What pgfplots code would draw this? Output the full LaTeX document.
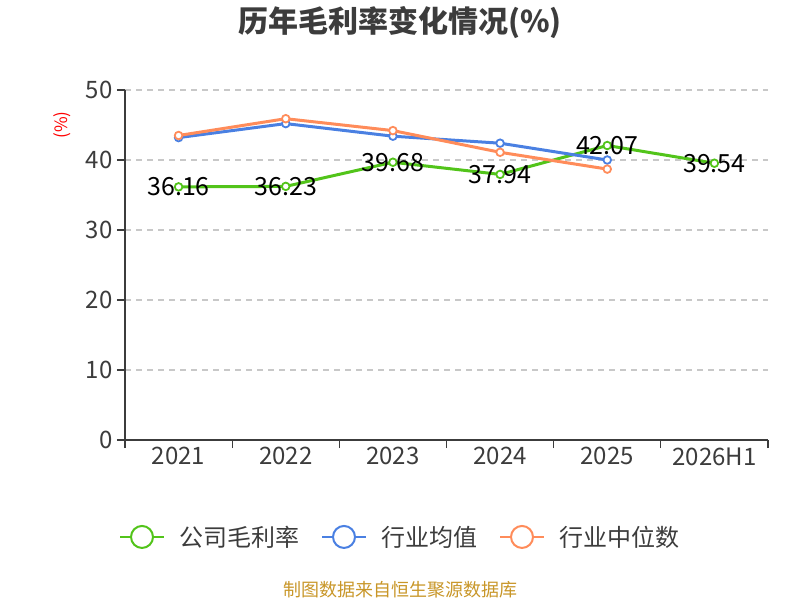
\documentclass[border=0pt]{standalone}
\usepackage{pgfplots}
\pgfplotsset{compat=1.18}
\usepackage{fontspec}
\setmainfont{Noto Sans CJK SC}
\definecolor{cgreen}{RGB}{82,196,26}
\definecolor{cblue}{RGB}{74,128,226}
\definecolor{corange}{RGB}{255,140,90}
\definecolor{ctext}{RGB}{60,60,60}
\definecolor{cfoot}{RGB}{200,150,40}
\definecolor{cgrid}{RGB}{200,200,200}
\begin{document}
\begin{tikzpicture}[x=1pt,y=1pt]
\useasboundingbox (0,0) rectangle (800,600);
\node[font=\fontsize{30pt}{34pt}\selectfont\bfseries, text=ctext] at (400,577) {历年毛利率变化情况(\%)};
\node[font=\fontsize{17pt}{19pt}\selectfont, text=red, rotate=90] at (62,475) {(\%)};
\node[font=\fontsize{18pt}{20pt}\selectfont, text=cfoot] at (400,10) {制图数据来自恒生聚源数据库};
\begin{axis}[
  at={(125pt,160pt)}, anchor=south west,
  scale only axis, width=643pt, height=350pt,
  xmin=-0.5, xmax=5.5, ymin=0, ymax=50,
  axis x line=bottom, axis y line=left,
  axis line style={-, ctext, line width=1.5pt},
  xtick={-0.5,0.5,1.5,2.5,3.5,4.5,5.5},
  xticklabels={},
  extra x ticks={0,1,2,3,4,5},
  extra x tick labels={2021,2022,2023,2024,2025,2026H1},
  extra x tick style={major tick length=0pt, grid=none},
  ytick={0,10,20,30,40,50},
  ymajorgrids,
  grid style={cgrid, line width=1.2pt, dash pattern=on 6pt off 5pt},
  xtick style={draw=ctext, line width=1.3pt},
  ytick style={draw=ctext, line width=1.5pt},
  xtick align=outside, ytick align=outside, major tick length=8pt,
  /pgf/number format/assume math mode=true,
  ticklabel style={font=\fontsize{24pt}{27pt}\selectfont, text=ctext},
  xticklabel style={yshift=-4pt},
  yticklabel style={xshift=-1pt},
  clip=false,
  legend columns=3,
  legend style={at={(0.4277,-0.277)}, anchor=center, draw=none, fill=none,
    font=\fontsize{24pt}{27pt}\selectfont, text=ctext,
    /tikz/every odd column/.append style={column sep=12pt},
    /tikz/every even column/.append style={column sep=20pt}},
  legend image code/.code={
    \draw[#1, line width=2pt] (0pt,0pt) -- (44pt,0pt);
    \draw[#1, line width=2pt, fill=white] (22pt,0pt) circle (11pt);},
  every axis plot/.append style={line width=3pt, mark=*, mark size=3.8pt,
    mark options={fill=white, line width=1.8pt}},
]
\addplot[color=cgreen,
  point meta=explicit symbolic,
  nodes near coords,
  nodes near coords style={anchor=center, text=black, font=\fontsize{25pt}{27pt}\selectfont}]
  coordinates {(0,36.16)[36.16] (1,36.23)[36.23] (2,39.68)[39.68] (3,37.94)[37.94] (4,42.07)[42.07] (5,39.54)[39.54]};
\addlegendentry{公司毛利率}
\addplot[color=cblue]
  coordinates {(0,43.2) (1,45.2) (2,43.4) (3,42.4) (4,40.0)};
\addlegendentry{行业均值}
\addplot[color=corange]
  coordinates {(0,43.5) (1,45.9) (2,44.2) (3,41.1) (4,38.7)};
\addlegendentry{行业中位数}
\end{axis}
\end{tikzpicture}
\end{document}
